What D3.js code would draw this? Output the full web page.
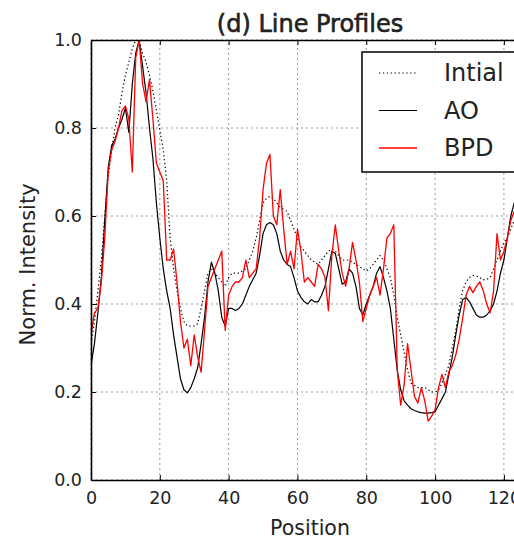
<!DOCTYPE html>
<html>
<head>
<meta charset="utf-8">
<script src="https://cdnjs.cloudflare.com/ajax/libs/d3/7.8.5/d3.min.js"></script>
<style>
    body { margin: 0; background: #fff; }
    text { font-family: "DejaVu Sans", sans-serif; fill: #222; }
</style>
</head>
<body>
<div id="chart"></div>
<script>

// normalised line profiles, one value per pixel position (0..124)
var initial = [0.31, 0.36, 0.43, 0.50, 0.60, 0.69, 0.75, 0.80, 0.83, 0.88,
    0.92, 0.95, 0.98, 1.0, 1.0, 0.97, 0.95, 0.92, 0.885, 0.84,
    0.795, 0.75, 0.68, 0.55, 0.48, 0.43, 0.39, 0.36, 0.35, 0.35,
    0.35, 0.355, 0.39, 0.43, 0.47, 0.48, 0.47, 0.46, 0.45, 0.44,
    0.46, 0.47, 0.47, 0.47, 0.475, 0.48, 0.50, 0.52, 0.55, 0.59,
    0.63, 0.64, 0.645, 0.64, 0.63, 0.62, 0.615, 0.61, 0.59, 0.57,
    0.55, 0.53, 0.52, 0.51, 0.50, 0.495, 0.49, 0.50, 0.51, 0.52,
    0.525, 0.52, 0.51, 0.50, 0.50, 0.50, 0.495, 0.49, 0.485, 0.48,
    0.475, 0.48, 0.49, 0.50, 0.51, 0.50, 0.48, 0.46, 0.42, 0.37,
    0.33, 0.29, 0.25, 0.22, 0.215, 0.21, 0.21, 0.21, 0.205, 0.20,
    0.20, 0.205, 0.22, 0.24, 0.26, 0.30, 0.34, 0.39, 0.43, 0.45,
    0.46, 0.465, 0.464, 0.46, 0.455, 0.456, 0.46, 0.48, 0.50, 0.52,
    0.54, 0.55, 0.57, 0.59, 0.61];

var ao = [0.26, 0.31, 0.38, 0.46, 0.59, 0.71, 0.76, 0.775, 0.80, 0.82,
    0.845, 0.79, 0.90, 0.97, 1.0, 0.94, 0.88, 0.80, 0.73, 0.63,
    0.55, 0.48, 0.43, 0.39, 0.33, 0.28, 0.23, 0.205, 0.198, 0.21,
    0.23, 0.255, 0.31, 0.37, 0.45, 0.495, 0.47, 0.43, 0.37, 0.35,
    0.39, 0.39, 0.385, 0.39, 0.40, 0.42, 0.44, 0.455, 0.47, 0.51,
    0.56, 0.58, 0.585, 0.58, 0.56, 0.52, 0.50, 0.49, 0.485, 0.46,
    0.43, 0.415, 0.405, 0.40, 0.41, 0.405, 0.405, 0.42, 0.44, 0.48,
    0.52, 0.515, 0.48, 0.445, 0.45, 0.48, 0.47, 0.44, 0.39, 0.375,
    0.40, 0.42, 0.44, 0.47, 0.485, 0.46, 0.43, 0.39, 0.32, 0.25,
    0.205, 0.18, 0.17, 0.162, 0.158, 0.155, 0.153, 0.152, 0.152, 0.153,
    0.155, 0.17, 0.185, 0.20, 0.24, 0.28, 0.33, 0.375, 0.41, 0.415,
    0.405, 0.39, 0.375, 0.37, 0.37, 0.375, 0.385, 0.40, 0.43, 0.47,
    0.50, 0.55, 0.60, 0.63, 0.66];

var bpd = [0.33, 0.38, 0.39, 0.45, 0.55, 0.70, 0.75, 0.77, 0.80, 0.84,
    0.85, 0.82, 0.70, 0.96, 1.0, 0.90, 0.86, 0.91, 0.82, 0.72,
    0.70, 0.68, 0.50, 0.50, 0.525, 0.45, 0.36, 0.30, 0.32, 0.26,
    0.33, 0.28, 0.245, 0.34, 0.44, 0.46, 0.48, 0.50, 0.52, 0.34,
    0.42, 0.44, 0.45, 0.45, 0.46, 0.50, 0.46, 0.47, 0.48, 0.55,
    0.66, 0.72, 0.74, 0.60, 0.58, 0.66, 0.57, 0.49, 0.52, 0.48,
    0.57, 0.52, 0.45, 0.46, 0.45, 0.44, 0.49, 0.48, 0.46, 0.385,
    0.51, 0.58, 0.52, 0.47, 0.44, 0.48, 0.54, 0.50, 0.45, 0.36,
    0.39, 0.42, 0.44, 0.46, 0.42, 0.48, 0.55, 0.56, 0.58, 0.25,
    0.17, 0.216, 0.31, 0.25, 0.19, 0.175, 0.21, 0.18, 0.134, 0.145,
    0.16, 0.21, 0.24, 0.21, 0.246, 0.26, 0.284, 0.32, 0.366, 0.42,
    0.44, 0.426, 0.44, 0.45, 0.43, 0.40, 0.38, 0.43, 0.56, 0.50,
    0.52, 0.55, 0.59, 0.61, 0.63];

var xTicks = [0, 20, 40, 60, 80, 100, 120];
var yTicks = [0.0, 0.2, 0.4, 0.6, 0.8, 1.0];
var legendNames = ["Intial", "AO", "BPD"];

var svgWidth = 514, svgHeight = 540;
var margin = {top: 40, left: 91, bottom: 60};
var plotRight = 528;

var svg = d3.select("#chart").append("svg")
    .attr("width", svgWidth)
    .attr("height", svgHeight);

var xScale = d3.scaleLinear()
    .domain([0, 127])
    .range([margin.left, plotRight]);

var yScale = d3.scaleLinear()
    .domain([0, 1])
    .range([svgHeight - margin.bottom, margin.top]);

svg.append("clipPath").attr("id", "plotclip")
    .append("rect")
    .attr("x", margin.left)
    .attr("y", margin.top)
    .attr("width", plotRight - margin.left)
    .attr("height", yScale(0) - yScale(1));

// grid
var grid = svg.append("g");
grid.selectAll(".vgrid")
    .data(xTicks)
    .enter()
    .append("line")
    .attr("x1", function (d) { return xScale(d); })
    .attr("x2", function (d) { return xScale(d); })
    .attr("y1", yScale(0))
    .attr("y2", yScale(1))
    .attr("stroke", "#9a9a9a")
    .attr("stroke-width", 1)
    .attr("stroke-dasharray", "2,3");

grid.selectAll(".hgrid")
    .data(yTicks)
    .enter()
    .append("line")
    .attr("x1", xScale(0))
    .attr("x2", plotRight)
    .attr("y1", function (d) { return yScale(d); })
    .attr("y2", function (d) { return yScale(d); })
    .attr("stroke", "#9a9a9a")
    .attr("stroke-width", 1)
    .attr("stroke-dasharray", "2,3");

var series = [
    {name: legendNames[0], values: initial, color: "#000", width: 1.2, dash: "1.3,2.6"},
    {name: legendNames[1], values: ao, color: "#000", width: 1.2, dash: null},
    {name: legendNames[2], values: bpd, color: "#f00", width: 1.3, dash: null}
];

var line = d3.line()
    .x(function (d, i) { return xScale(i); })
    .y(function (d) { return yScale(d); });

svg.append("g")
    .attr("clip-path", "url(#plotclip)")
    .selectAll("path")
    .data(series)
    .enter()
    .append("path")
    .attr("d", function (d) { return line(d.values); })
    .attr("fill", "none")
    .attr("stroke", function (d) { return d.color; })
    .attr("stroke-width", function (d) { return d.width; })
    .attr("stroke-dasharray", function (d) { return d.dash; })
    .attr("stroke-linejoin", "round");

// axes, ticks pointing inward like the classic style
var xAxis = svg.append("g")
    .attr("transform", "translate(0," + yScale(0) + ")")
    .call(d3.axisBottom(xScale).tickValues(xTicks).tickSizeInner(-5).tickSizeOuter(0));

var xTop = svg.append("g")
    .attr("transform", "translate(0," + yScale(1) + ")")
    .call(d3.axisTop(xScale).tickValues(xTicks).tickSizeInner(-5).tickSizeOuter(0).tickFormat(""));

var yAxis = svg.append("g")
    .attr("transform", "translate(" + xScale(0) + ",0)")
    .call(d3.axisLeft(yScale).tickValues(yTicks).tickSizeInner(-5).tickSizeOuter(0).tickFormat(d3.format(".1f")));

[xAxis, xTop, yAxis].forEach(function (g) {
    g.select(".domain").attr("stroke", "#000").attr("stroke-width", 1.6);
    g.selectAll(".tick line").attr("stroke", "#000").attr("stroke-width", 1);
    g.selectAll("text")
        .style("font-family", "'DejaVu Sans', sans-serif")
        .style("font-size", "17.5px")
        .attr("fill", "#222");
});
xAxis.selectAll("text").attr("y", 24).attr("dy", null);
yAxis.selectAll("text").attr("x", -9);

// title and labels
svg.append("text")
    .attr("x", 310)
    .attr("y", 32)
    .attr("text-anchor", "middle")
    .attr("stroke", "#222")
    .attr("stroke-width", 0.6)
    .style("font-size", "24px")
    .text("(d) Line Profiles");

svg.append("text")
    .attr("x", 310)
    .attr("y", 535)
    .attr("text-anchor", "middle")
    .style("font-size", "20.5px")
    .text("Position");

svg.append("text")
    .attr("transform", "translate(35," + yScale(0.49) + ") rotate(-90)")
    .attr("text-anchor", "middle")
    .style("font-size", "21px")
    .text("Norm. Intensity");

// legend
var legend = svg.append("g").attr("transform", "translate(362,52)");
legend.append("rect")
    .attr("width", 180)
    .attr("height", 120)
    .attr("fill", "#fff")
    .attr("stroke", "#000")
    .attr("stroke-width", 1.5);

var entry = legend.selectAll(".entry")
    .data(series)
    .enter()
    .append("g")
    .attr("transform", function (d, i) { return "translate(0," + (21 + i * 37.5) + ")"; });

entry.append("line")
    .attr("x1", 17)
    .attr("x2", 55)
    .attr("stroke", function (d) { return d.color; })
    .attr("stroke-width", function (d) { return d.width; })
    .attr("stroke-dasharray", function (d) { return d.dash; });

entry.append("text")
    .attr("x", 82)
    .attr("dy", "0.35em")
    .style("font-size", "24px")
    .text(function (d) { return d.name; });

</script>
</body>
</html>
